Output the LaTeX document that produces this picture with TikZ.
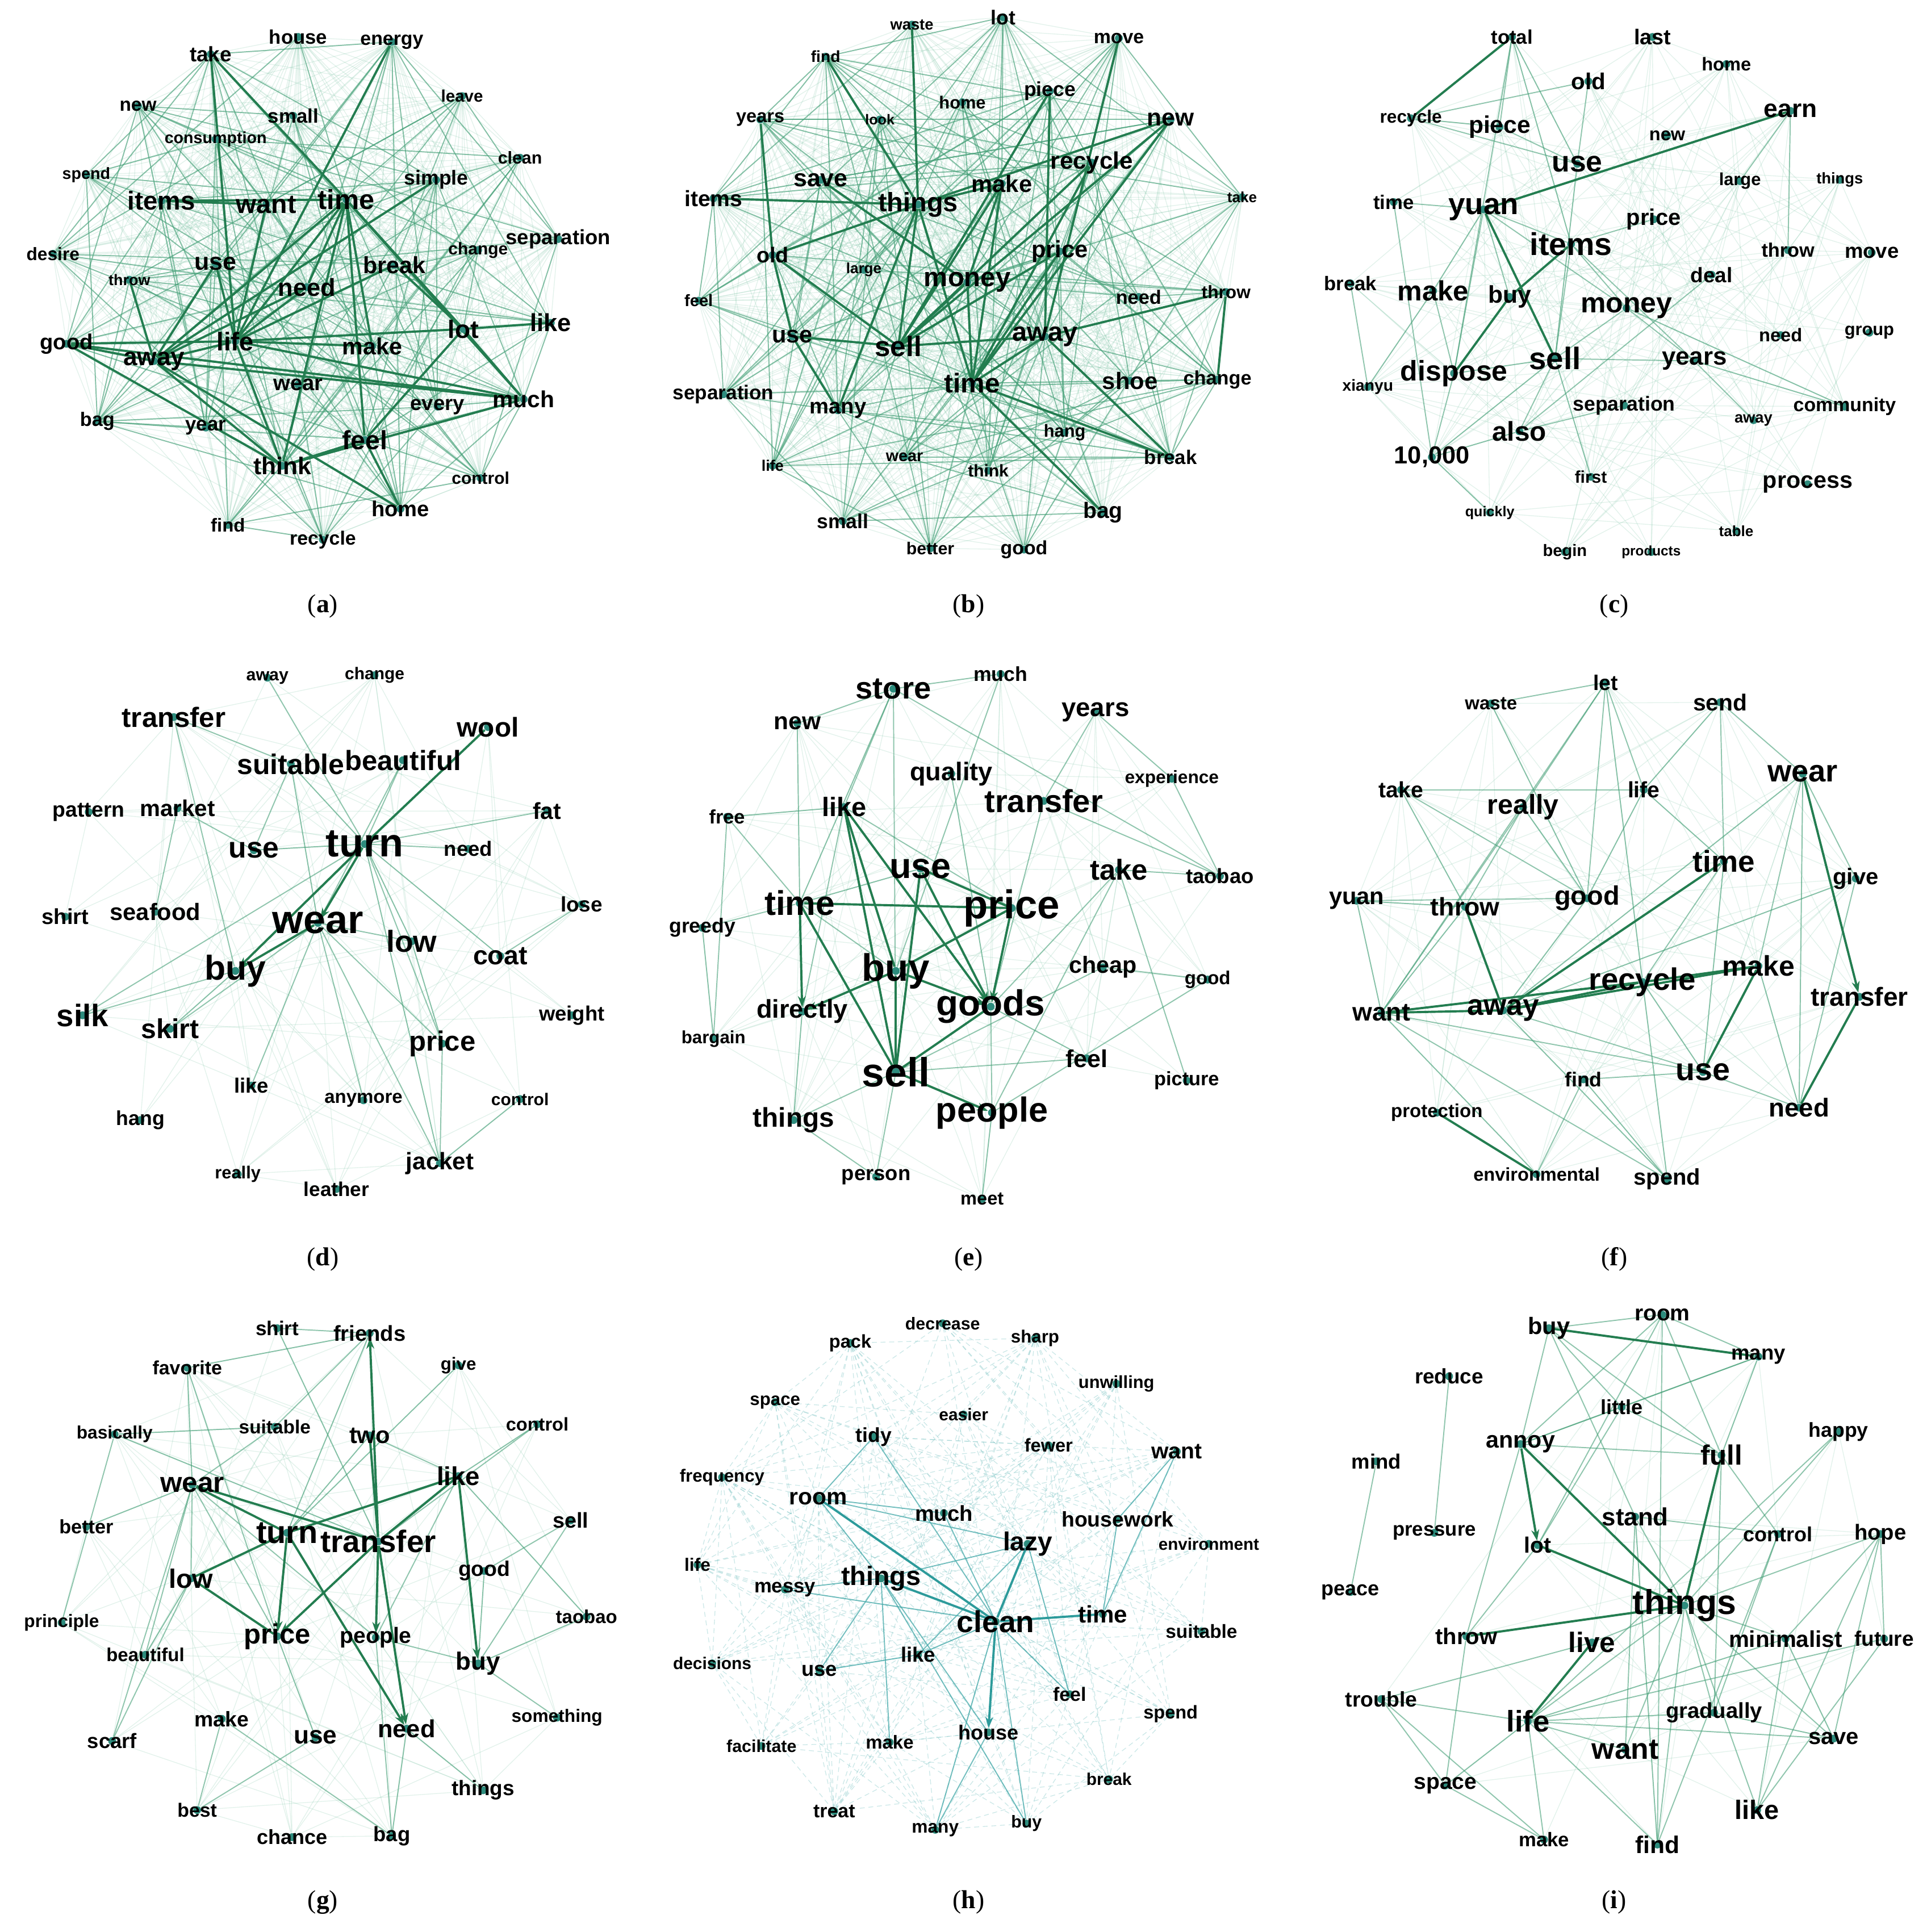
\documentclass[tikz,border=0pt]{standalone}
\usepackage{fontspec}
\setmainfont{Liberation Sans}
\newfontfamily\capfont{Liberation Serif}
\usetikzlibrary{arrows.meta}
\pgfdeclarelayer{bg}
\pgfsetlayers{bg,main}
\definecolor{eL}{RGB}{110,190,155}
\definecolor{eM}{RGB}{70,160,120}
\definecolor{eD}{RGB}{35,125,80}
\definecolor{tL}{RGB}{110,190,190}
\definecolor{tM}{RGB}{70,170,170}
\definecolor{tD}{RGB}{45,155,155}
\definecolor{dotc}{RGB}{45,140,125}
\tikzset{
 wdot/.style={circle,fill=dotc,draw=none,inner sep=0pt,minimum size=3.2pt},
 lbl/.style={inner sep=0pt,text=black},
 lite/.style={draw=eL,line width=0.3pt,opacity=0.2},
 midE/.style={draw=eM,line width=0.45pt,opacity=0.6},
 darkE/.style={draw=eD,line width=0.9pt},
 tlite/.style={draw=tL,line width=0.3pt,opacity=0.35,dash pattern=on 2pt off 1.5pt},
 tmid/.style={draw=tM,line width=0.45pt,opacity=0.75},
 tdark/.style={draw=tD,line width=0.9pt},
 arrowtip/.style={-{Stealth[length=4.5pt,width=3.2pt]}},
 capnode/.style={inner sep=0pt,font=\capfont\fontsize{10.5}{12}\selectfont},
}
\newcommand\wn[5]{\node[wdot] (#1) at (#2,#3) {};\node[lbl,font=\bfseries\fontsize{#4}{#4}\selectfont] (#1-t) at (#2,#3) {#5};}
\newcommand\meshnet[4]{%
 \edef\mlist{#2}%
 \foreach \u [count=\i] in \mlist {\foreach \v [count=\j] in \mlist {%
  \ifnum\i<\j\relax
   \pgfmathtruncatemacro\rrh{mod(\i*\i*3+\i*7+\j*\j*5+\j*11+\i*\j*2,101)}%
   \ifnum\rrh<#3\relax\draw[#4] (#1\u) -- (#1\v);\fi
  \fi}}}
\newcommand\elist[3]{\foreach \u/\v in {#2}{\draw[#3] (#1\u) -- (#1\v);}}
\begin{document}
\begin{tikzpicture}[x=0.5pt,y=-0.5pt]
\useasboundingbox (0,0) rectangle (1567,1568);
% ---------- panel a
\wn{a-house}{242}{30}{8}{house}
\wn{a-energy}{318}{34}{7.8}{energy}
\wn{a-take}{171}{44}{8.5}{take}
\wn{a-leave}{375}{78}{6.8}{leave}
\wn{a-new}{112}{86}{7.7}{new}
\wn{a-small}{238}{94}{8}{small}
\wn{a-consumption}{175}{113}{6.6}{consumption}
\wn{a-clean}{422}{128}{7}{clean}
\wn{a-spend}{70}{142}{6.6}{spend}
\wn{a-simple}{354}{146}{8.2}{simple}
\wn{a-items}{131}{163}{10.5}{items}
\wn{a-want}{216}{166}{10.7}{want}
\wn{a-time}{281}{162}{11.2}{time}
\wn{a-separation}{453}{194}{8.4}{separation}
\wn{a-desire}{43}{206}{7.3}{desire}
\wn{a-change}{388}{203}{6.9}{change}
\wn{a-use}{175}{214}{9.9}{use}
\wn{a-break}{320}{215}{9.5}{break}
\wn{a-throw}{105}{227}{6.2}{throw}
\wn{a-need}{249}{233}{10}{need}
\wn{a-like}{447}{262}{10}{like}
\wn{a-lot}{376}{267}{10.2}{lot}
\wn{a-good}{54}{279}{8.8}{good}
\wn{a-life}{191}{277}{10.4}{life}
\wn{a-make}{302}{281}{9.5}{make}
\wn{a-away}{125}{293}{10.2}{away}
\wn{a-wear}{242}{312}{8.8}{wear}
\wn{a-much}{425}{324}{9.4}{much}
\wn{a-every}{355}{330}{8.4}{every}
\wn{a-bag}{79}{342}{7.9}{bag}
\wn{a-year}{167}{347}{8}{year}
\wn{a-feel}{296}{357}{10.7}{feel}
\wn{a-think}{229}{378}{9.8}{think}
\wn{a-control}{390}{388}{6.9}{control}
\wn{a-home}{325}{413}{8.8}{home}
\wn{a-find}{185}{426}{7.6}{find}
\wn{a-recycle}{262}{438}{7.8}{recycle}
% ---------- panel b
\wn{b-waste}{740}{20}{6.3}{waste}
\wn{b-lot}{814}{14}{8.2}{lot}
\wn{b-find}{670}{46}{6.5}{find}
\wn{b-move}{908}{31}{7.8}{move}
\wn{b-piece}{852}{74}{8.2}{piece}
\wn{b-home}{781}{83}{7.1}{home}
\wn{b-years}{617}{97}{7.5}{years}
\wn{b-look}{714}{97}{5.8}{look}
\wn{b-new}{950}{97}{9.8}{new}
\wn{b-recycle}{886}{132}{9.7}{recycle}
\wn{b-save}{666}{146}{9.9}{save}
\wn{b-make}{813}{149}{9.6}{make}
\wn{b-items}{579}{161}{9}{items}
\wn{b-take}{1008}{160}{6}{take}
\wn{b-things}{745}{166}{10.8}{things}
\wn{b-old}{627}{207}{8.7}{old}
\wn{b-price}{860}{204}{9.6}{price}
\wn{b-large}{701}{219}{6}{large}
\wn{b-money}{785}{229}{10.9}{money}
\wn{b-feel}{567}{244}{6.7}{feel}
\wn{b-need}{924}{241}{7.9}{need}
\wn{b-throw}{995}{237}{7.3}{throw}
\wn{b-use}{643}{273}{9.6}{use}
\wn{b-sell}{729}{281}{11.4}{sell}
\wn{b-away}{848}{273}{10.8}{away}
\wn{b-time}{789}{311}{11}{time}
\wn{b-shoe}{917}{309}{9.6}{shoe}
\wn{b-change}{988}{308}{7.9}{change}
\wn{b-separation}{587}{320}{8.1}{separation}
\wn{b-many}{680}{333}{8.8}{many}
\wn{b-hang}{864}{351}{7.1}{hang}
\wn{b-break}{950}{371}{8}{break}
\wn{b-life}{627}{378}{6.2}{life}
\wn{b-wear}{734}{371}{6.6}{wear}
\wn{b-think}{802}{382}{6.9}{think}
\wn{b-bag}{895}{416}{9}{bag}
\wn{b-small}{684}{423}{8.2}{small}
\wn{b-better}{755}{445}{7}{better}
\wn{b-good}{831}{446}{7.8}{good}
% ---------- panel c
\wn{c-total}{1227}{30}{8}{total}
\wn{c-last}{1341}{30}{8.7}{last}
\wn{c-home}{1401}{52}{7.5}{home}
\wn{c-old}{1289}{66}{9.3}{old}
\wn{c-recycle}{1145}{96}{7.3}{recycle}
\wn{c-piece}{1217}{103}{9.8}{piece}
\wn{c-earn}{1453}{90}{10.2}{earn}
\wn{c-new}{1353}{110}{7.5}{new}
\wn{c-use}{1280}{133}{11.9}{use}
\wn{c-large}{1412}{147}{7.1}{large}
\wn{c-things}{1493}{146}{6.3}{things}
\wn{c-time}{1131}{164}{8}{time}
\wn{c-yuan}{1204}{170}{12.2}{yuan}
\wn{c-price}{1342}{178}{9.2}{price}
\wn{c-items}{1275}{198}{12.8}{items}
\wn{c-throw}{1451}{203}{7.9}{throw}
\wn{c-move}{1519}{205}{8.4}{move}
\wn{c-deal}{1389}{223}{8.5}{deal}
\wn{c-break}{1096}{230}{8}{break}
\wn{c-make}{1163}{236}{11.3}{make}
\wn{c-buy}{1225}{241}{9.8}{buy}
\wn{c-money}{1320}{250}{11.5}{money}
\wn{c-need}{1445}{272}{7.5}{need}
\wn{c-group}{1517}{270}{7.1}{group}
\wn{c-sell}{1262}{291}{12.6}{sell}
\wn{c-years}{1375}{293}{10.1}{years}
\wn{c-dispose}{1180}{303}{11.5}{dispose}
\wn{c-xianyu}{1110}{314}{6.5}{xianyu}
\wn{c-separation}{1318}{329}{8.2}{separation}
\wn{c-community}{1497}{330}{7.8}{community}
\wn{c-away}{1423}{341}{6.3}{away}
\wn{c-also}{1233}{350}{11}{also}
\wn{c-tenk}{1162}{371}{10}{10,000}
\wn{c-process}{1467}{393}{9.5}{process}
\wn{c-first}{1291}{387}{6.9}{first}
\wn{c-quickly}{1209}{416}{5.8}{quickly}
\wn{c-table}{1409}{431}{6}{table}
\wn{c-begin}{1270}{448}{6.7}{begin}
\wn{c-products}{1340}{448}{5.6}{products}
% ---------- panel d
\wn{d-away}{217}{550}{7}{away}
\wn{d-change}{304}{548}{6.9}{change}
\wn{d-transfer}{141}{582}{11.3}{transfer}
\wn{d-wool}{396}{590}{11}{wool}
\wn{d-suitable}{236}{620}{11.5}{suitable}
\wn{d-beautiful}{327}{617}{11.3}{beautiful}
\wn{d-pattern}{72}{659}{8.6}{pattern}
\wn{d-market}{144}{656}{9.3}{market}
\wn{d-fat}{444}{658}{9.4}{fat}
\wn{d-turn}{296}{685}{16.2}{turn}
\wn{d-use}{206}{690}{11.9}{use}
\wn{d-need}{380}{689}{8.4}{need}
\wn{d-lose}{472}{734}{8.5}{lose}
\wn{d-shirt}{53}{744}{8.8}{shirt}
\wn{d-seafood}{126}{740}{9.6}{seafood}
\wn{d-wear}{258}{749}{16.2}{wear}
\wn{d-low}{334}{764}{12.3}{low}
\wn{d-coat}{406}{776}{10.7}{coat}
\wn{d-buy}{191}{788}{14}{buy}
\wn{d-silk}{67}{824}{12.6}{silk}
\wn{d-skirt}{138}{835}{11.1}{skirt}
\wn{d-weight}{464}{824}{8.4}{weight}
\wn{d-price}{359}{847}{11.3}{price}
\wn{d-like}{204}{881}{8.4}{like}
\wn{d-anymore}{295}{893}{7.6}{anymore}
\wn{d-control}{422}{892}{6.9}{control}
\wn{d-hang}{114}{909}{8.2}{hang}
\wn{d-jacket}{357}{944}{9.7}{jacket}
\wn{d-really}{193}{953}{7.1}{really}
\wn{d-leather}{273}{965}{8.1}{leather}
% ---------- panel e
\wn{e-store}{725}{559}{12.5}{store}
\wn{e-much}{812}{547}{8.2}{much}
\wn{e-new}{647}{587}{9.8}{new}
\wn{e-years}{889}{578}{10.5}{years}
\wn{e-quality}{772}{628}{10.4}{quality}
\wn{e-experience}{951}{632}{7.3}{experience}
\wn{e-free}{590}{663}{7.9}{free}
\wn{e-like}{685}{655}{10.8}{like}
\wn{e-transfer}{847}{650}{12.9}{transfer}
\wn{e-use}{747}{705}{14.5}{use}
\wn{e-take}{908}{706}{11.7}{take}
\wn{e-taobao}{990}{711}{8.4}{taobao}
\wn{e-time}{649}{733}{13.9}{time}
\wn{e-price}{821}{737}{16.3}{price}
\wn{e-greedy}{570}{753}{8.2}{greedy}
\wn{e-buy}{727}{788}{15.5}{buy}
\wn{e-cheap}{895}{785}{9.5}{cheap}
\wn{e-good}{980}{795}{7.6}{good}
\wn{e-directly}{651}{821}{10.4}{directly}
\wn{e-goods}{804}{817}{14.7}{goods}
\wn{e-bargain}{579}{843}{7.2}{bargain}
\wn{e-sell}{727}{870}{16.5}{sell}
\wn{e-feel}{882}{859}{9.9}{feel}
\wn{e-picture}{963}{877}{7.9}{picture}
\wn{e-things}{644}{909}{11}{things}
\wn{e-people}{805}{903}{14.1}{people}
\wn{e-person}{711}{955}{8.4}{person}
\wn{e-meet}{797}{973}{7.5}{meet}
% ---------- panel f
\wn{f-let}{1303}{554}{8.6}{let}
\wn{f-waste}{1210}{571}{7.6}{waste}
\wn{f-send}{1396}{570}{9.4}{send}
\wn{f-wear}{1463}{628}{12.5}{wear}
\wn{f-take}{1137}{641}{9}{take}
\wn{f-really}{1236}{655}{11.1}{really}
\wn{f-life}{1334}{641}{9}{life}
\wn{f-time}{1399}{699}{12.2}{time}
\wn{f-give}{1506}{713}{9.2}{give}
\wn{f-yuan}{1101}{731}{9.6}{yuan}
\wn{f-throw}{1189}{736}{10.3}{throw}
\wn{f-good}{1288}{729}{10.8}{good}
\wn{f-make}{1427}{784}{11.5}{make}
\wn{f-recycle}{1333}{797}{12.6}{recycle}
\wn{f-transfer}{1509}{809}{10.6}{transfer}
\wn{f-want}{1121}{822}{10.3}{want}
\wn{f-away}{1220}{820}{11.9}{away}
\wn{f-use}{1382}{870}{12.8}{use}
\wn{f-find}{1285}{876}{8.2}{find}
\wn{f-need}{1460}{899}{10.5}{need}
\wn{f-protection}{1166}{903}{7.6}{protection}
\wn{f-environmental}{1247}{953}{7.5}{environmental}
\wn{f-spend}{1353}{957}{9.2}{spend}
% ---------- panel g
\wn{g-shirt}{225}{1078}{8.1}{shirt}
\wn{g-friends}{300}{1082}{8.8}{friends}
\wn{g-favorite}{152}{1110}{7.8}{favorite}
\wn{g-give}{372}{1108}{7.2}{give}
\wn{g-basically}{93}{1164}{7.3}{basically}
\wn{g-suitable}{223}{1158}{7.7}{suitable}
\wn{g-two}{300}{1165}{9.6}{two}
\wn{g-control}{436}{1156}{7.5}{control}
\wn{g-wear}{156}{1205}{11.4}{wear}
\wn{g-like}{372}{1198}{10.5}{like}
\wn{g-better}{70}{1239}{7.9}{better}
\wn{g-turn}{233}{1244}{12.9}{turn}
\wn{g-transfer}{307}{1251}{12.6}{transfer}
\wn{g-sell}{463}{1234}{8.7}{sell}
\wn{g-low}{155}{1281}{10.8}{low}
\wn{g-good}{393}{1275}{8.6}{good}
\wn{g-principle}{50}{1317}{7.3}{principle}
\wn{g-taobao}{476}{1312}{7.6}{taobao}
\wn{g-price}{225}{1328}{11.3}{price}
\wn{g-people}{305}{1329}{9}{people}
\wn{g-beautiful}{118}{1343}{7.6}{beautiful}
\wn{g-buy}{388}{1350}{10.1}{buy}
\wn{g-make}{180}{1395}{8.6}{make}
\wn{g-use}{256}{1410}{10.2}{use}
\wn{g-need}{330}{1403}{10}{need}
\wn{g-something}{452}{1394}{7.3}{something}
\wn{g-scarf}{91}{1413}{8.4}{scarf}
\wn{g-things}{392}{1453}{8.5}{things}
\wn{g-best}{160}{1469}{7.8}{best}
\wn{g-chance}{237}{1491}{8.3}{chance}
\wn{g-bag}{318}{1490}{8.4}{bag}
% ---------- panel h
\wn{h-decrease}{765}{1074}{7}{decrease}
\wn{h-pack}{690}{1090}{7.5}{pack}
\wn{h-sharp}{840}{1086}{7.2}{sharp}
\wn{h-unwilling}{906}{1123}{7.1}{unwilling}
\wn{h-space}{629}{1138}{7.2}{space}
\wn{h-easier}{782}{1148}{6.9}{easier}
\wn{h-tidy}{709}{1166}{8.2}{tidy}
\wn{h-fewer}{851}{1173}{7.5}{fewer}
\wn{h-want}{955}{1178}{9}{want}
\wn{h-frequency}{586}{1199}{7.2}{frequency}
\wn{h-room}{664}{1216}{9.4}{room}
\wn{h-much}{766}{1228}{8.8}{much}
\wn{h-housework}{907}{1233}{8.6}{housework}
\wn{h-lazy}{834}{1253}{10.6}{lazy}
\wn{h-environment}{981}{1253}{6.8}{environment}
\wn{h-life}{566}{1270}{7.3}{life}
\wn{h-messy}{637}{1290}{8}{messy}
\wn{h-things}{715}{1281}{10.8}{things}
\wn{h-clean}{808}{1316}{12.3}{clean}
\wn{h-time}{895}{1310}{9.7}{time}
\wn{h-suitable}{975}{1324}{7.7}{suitable}
\wn{h-decisions}{578}{1350}{6.9}{decisions}
\wn{h-use}{665}{1356}{8.4}{use}
\wn{h-like}{745}{1343}{8.4}{like}
\wn{h-feel}{868}{1375}{7.8}{feel}
\wn{h-spend}{950}{1391}{7.5}{spend}
\wn{h-house}{802}{1406}{8.3}{house}
\wn{h-make}{722}{1414}{7.6}{make}
\wn{h-facilitate}{618}{1417}{7}{facilitate}
\wn{h-break}{900}{1444}{6.9}{break}
\wn{h-treat}{677}{1470}{7.8}{treat}
\wn{h-many}{759}{1485}{7.3}{many}
\wn{h-buy}{833}{1480}{7}{buy}
% ---------- panel i
\wn{i-buy}{1257}{1078}{9.6}{buy}
\wn{i-room}{1349}{1067}{9}{room}
\wn{i-many}{1427}{1101}{8.4}{many}
\wn{i-reduce}{1176}{1117}{8.5}{reduce}
\wn{i-little}{1316}{1142}{8.3}{little}
\wn{i-happy}{1492}{1162}{8.2}{happy}
\wn{i-annoy}{1234}{1172}{9.5}{annoy}
\wn{i-full}{1397}{1181}{11.3}{full}
\wn{i-mind}{1117}{1186}{8.4}{mind}
\wn{i-stand}{1327}{1231}{10.1}{stand}
\wn{i-control}{1443}{1245}{8.3}{control}
\wn{i-hope}{1526}{1245}{8.8}{hope}
\wn{i-pressure}{1164}{1244}{8}{pressure}
\wn{i-lot}{1248}{1254}{9}{lot}
\wn{i-peace}{1096}{1292}{8.3}{peace}
\wn{i-things}{1367}{1303}{14}{things}
\wn{i-throw}{1190}{1328}{9.2}{throw}
\wn{i-live}{1292}{1333}{11.4}{live}
\wn{i-minimalist}{1449}{1330}{9.3}{minimalist}
\wn{i-future}{1529}{1330}{8.5}{future}
\wn{i-trouble}{1121}{1379}{8.6}{trouble}
\wn{i-life}{1240}{1397}{12.1}{life}
\wn{i-gradually}{1391}{1390}{8.8}{gradually}
\wn{i-want}{1319}{1420}{11.9}{want}
\wn{i-save}{1488}{1411}{9.2}{save}
\wn{i-space}{1173}{1449}{9}{space}
\wn{i-like}{1426}{1469}{10.8}{like}
\wn{i-make}{1253}{1493}{8}{make}
\wn{i-find}{1345}{1497}{9.8}{find}
% ---------- captions
\node[capnode] (cap-a) at (262,492) {(\textbf{a})};
\node[capnode] (cap-b) at (786,492) {(\textbf{b})};
\node[capnode] (cap-c) at (1310,492) {(\textbf{c})};
\node[capnode] (cap-d) at (262,1022) {(\textbf{d})};
\node[capnode] (cap-e) at (786,1022) {(\textbf{e})};
\node[capnode] (cap-f) at (1310,1022) {(\textbf{f})};
\node[capnode] (cap-g) at (262,1544) {(\textbf{g})};
\node[capnode] (cap-h) at (786,1544) {(\textbf{h})};
\node[capnode] (cap-i) at (1310,1544) {(\textbf{i})};
% ================= edges
\begin{pgfonlayer}{bg}
\fill[white] (0,0) rectangle (1567,1568);
% a
\def\alist{house,energy,take,leave,new,small,consumption,clean,spend,simple,items,want,time,separation,desire,change,use,break,throw,need,like,lot,good,life,make,away,wear,much,every,bag,year,feel,think,control,home,find,recycle}
\meshnet{a-}{\alist}{101}{lite}
\meshnet{a-}{\alist}{22}{midE}
\elist{a-}{items/time,items/want,want/life,time/life,time/away,time/think,time/lot,time/feel,time/make,time/need,life/lot,life/good,life/away,life/think,life/much,life/make,life/break,away/good,away/think,away/need,away/simple,away/home,away/much,lot/much,lot/feel,lot/like,good/much,think/feel,think/much,throw/away,take/time,take/life,energy/life,feel/home,good/think,break/lot,use/life,use/away,time/much,need/life}{darkE}
% b
\def\blist{waste,lot,find,move,piece,home,years,look,new,recycle,save,make,items,take,things,old,price,large,money,feel,need,throw,use,sell,away,time,shoe,change,separation,many,hang,break,life,wear,think,bag,small,better,good}
\meshnet{b-}{\blist}{101}{lite}
\meshnet{b-}{\blist}{22}{midE}
\elist{b-}{things/old,things/sell,things/many,things/time,things/make,things/items,save/money,old/sell,old/use,make/sell,make/time,make/money,money/sell,money/time,new/things,new/time,sell/price,price/time,away/time,away/sell,time/bag,time/break,away/break,piece/sell,piece/away,use/sell,years/old,find/things,waste/things,recycle/time,recycle/sell,throw/away,throw/change,move/away,use/many,new/sell}{darkE}
% c
\meshnet{c-}{total,last,home,old,recycle,piece,earn,new,use,large,things,time,yuan,price,items,throw,move,deal,break,make,buy,money,need,group,sell,years,dispose,xianyu,separation,community,away,also,tenk,process,first,quickly,table,begin,products}{28}{lite}
\elist{c-}{yuan/buy,yuan/dispose,yuan/make,yuan/items,yuan/time,items/sell,sell/years,sell/also,recycle/piece,recycle/use,piece/use,total/piece,total/dispose,total/items,total/use,use/sell,items/years,make/dispose,sell/tenk,also/tenk,money/sell,items/money,money/years,years/away,earn/throw,earn/large,items/price,sell/dispose,yuan/money,time/tenk,break/xianyu,make/xianyu,dispose/tenk,tenk/quickly,sell/first,separation/also,money/community,years/community,deal/also,old/recycle,old/use}{midE}
\elist{c-}{total/recycle,yuan/sell,items/buy,buy/dispose,yuan/earn}{darkE}
% d
\meshnet{d-}{away,change,transfer,wool,suitable,beautiful,pattern,market,fat,turn,use,need,lose,shirt,seafood,wear,low,coat,buy,silk,skirt,weight,price,like,anymore,control,hang,jacket,really,leather}{25}{lite}
\elist{d-}{turn/silk,turn/beautiful,turn/low,turn/price,turn/coat,turn/jacket,turn/use,turn/suitable,turn/fat,turn/away,turn/need,wear/skirt,wear/price,wear/low,wear/jacket,wear/like,wear/anymore,market/seafood,buy/skirt,buy/silk,suitable/wear,beautiful/wear,transfer/buy,suitable/use,low/price,coat/lose,jacket/control,price/jacket,transfer/suitable,market/use}{midE}
\elist{d-}{wool/turn,wear/buy}{darkE}
\elist{d-}{turn/wear,turn/buy}{darkE,arrowtip}
% e
\meshnet{e-}{store,much,new,years,quality,experience,free,like,transfer,use,take,taobao,time,price,greedy,buy,cheap,good,directly,goods,bargain,sell,feel,picture,things,people,person,meet}{30}{lite}
\elist{e-}{store/taobao,transfer/taobao,take/people,good/people,take/picture,like/price,time/buy,use/time,free/time,greedy/time,things/directly,things/sell,quality/goods,store/like,store/sell,store/time,new/time,like/free,like/directly,goods/people,feel/goods,feel/sell,much/buy,years/experience,years/transfer,transfer/goods,take/goods,cheap/sell,greedy/bargain,free/bargain,sell/person,people/meet,things/person,store/much,new/store,experience/taobao,take/taobao,cheap/good}{midE}
\elist{e-}{time/price,like/buy,like/sell,buy/price,sell/goods,use/price,use/sell,sell/buy,time/sell}{darkE}
\elist{e-}{time/directly,buy/goods,buy/directly,like/goods,price/goods,sell/people,use/goods}{darkE,arrowtip}
% f
\meshnet{f-}{let,waste,send,wear,take,really,life,time,give,yuan,throw,good,make,recycle,transfer,want,away,use,find,need,protection,environmental,spend}{40}{lite}
\elist{f-}{wear/send,away/good,want/use,want/spend,recycle/use,find/spend,life/send,life/good,life/time,want/really,want/throw,let/really,let/life,let/good,let/want,let/recycle,take/life,take/good,take/throw,wear/away,give/away,throw/really,use/find,recycle/spend,use/need,away/use,wear/need,wear/give,wear/make,yuan/want,yuan/throw,yuan/good,want/environmental,away/spend,find/environmental,send/time,really/good,time/use,time/recycle,make/need,give/need,waste/good,waste/let}{midE}
\elist{f-}{throw/away,away/want,away/recycle,want/recycle,make/use,recycle/make,protection/environmental,away/time,away/make,transfer/need}{darkE}
\elist{f-}{wear/transfer}{darkE,arrowtip}
% g
\meshnet{g-}{shirt,friends,favorite,give,basically,suitable,two,control,wear,like,better,turn,transfer,sell,low,good,principle,taobao,price,people,beautiful,buy,make,use,need,something,scarf,things,best,chance,bag}{25}{lite}
\elist{g-}{two/like,favorite/friends,suitable/friends,turn/friends,turn/two,shirt/transfer,give/turn,control/like,like/people,wear/price,wear/people,wear/low,sell/good,buy/something,need/things,make/best,use/best,make/bag,need/bag,scarf/wear,beautiful/wear,basically/transfer,favorite/price,favorite/wear,suitable/wear,shirt/friends,basically/suitable,better/wear,like/taobao,buy/taobao,good/buy,sell/buy,control/transfer,use/price,people/buy,people/bag,low/scarf,beautiful/low,principle/basically}{midE}
\elist{g-}{wear/transfer,wear/turn,transfer/like,turn/like,turn/low,low/price,two/transfer}{darkE}
\elist{g-}{transfer/friends,transfer/price,turn/price,turn/need,transfer/need,like/buy,transfer/people}{darkE,arrowtip}
% h
\meshnet{h-}{decrease,pack,sharp,unwilling,space,easier,tidy,fewer,want,frequency,room,much,housework,lazy,environment,life,messy,things,clean,time,suitable,decisions,use,like,feel,spend,house,make,facilitate,break,treat,many,buy}{40}{tlite}
\elist{h-}{clean/like,use/like,tidy/room,tidy/clean,want/housework,housework/time,want/time,things/house,things/buy,things/make,things/use,things/lazy,messy/clean,much/clean,much/room,clean/feel,lazy/feel,clean/many,clean/buy,room/things,messy/things,room/lazy,house/many,like/lazy}{tmid}
\elist{h-}{things/clean,room/clean,clean/lazy,clean/time}{tdark}
\elist{h-}{clean/house}{tdark,arrowtip}
% i
\meshnet{i-}{buy,room,many,little,happy,annoy,full,stand,control,hope,lot,things,throw,live,minimalist,future,trouble,life,gradually,want,save,space,like,make,find}{10}{lite}
\elist{i-}{buy/room,buy/annoy,buy/little,buy/full,buy/stand,room/many,room/lot,room/full,room/annoy,room/find,many/little,many/full,many/annoy,little/full,annoy/full,stand/things,stand/control,stand/want,stand/find,things/life,things/minimalist,things/hope,things/happy,things/want,things/find,things/gradually,things/save,things/like,things/live,life/minimalist,life/future,life/gradually,life/save,life/want,life/space,life/trouble,life/make,life/find,live/trouble,trouble/space,trouble/make,hope/minimalist,hope/save,hope/like,hope/future,minimalist/like,minimalist/save,future/like,control/find,control/gradually,full/gradually,mind/peace,reduce/pressure,throw/lot,throw/space,annoy/throw,space/make,gradually/save,happy/life,full/control,lot/little,annoy/little}{midE}
\elist{i-}{lot/things,annoy/things,full/things,things/throw,live/life,buy/many}{darkE}
\elist{i-}{annoy/lot}{darkE,arrowtip}
\end{pgfonlayer}
\end{tikzpicture}
\end{document}
